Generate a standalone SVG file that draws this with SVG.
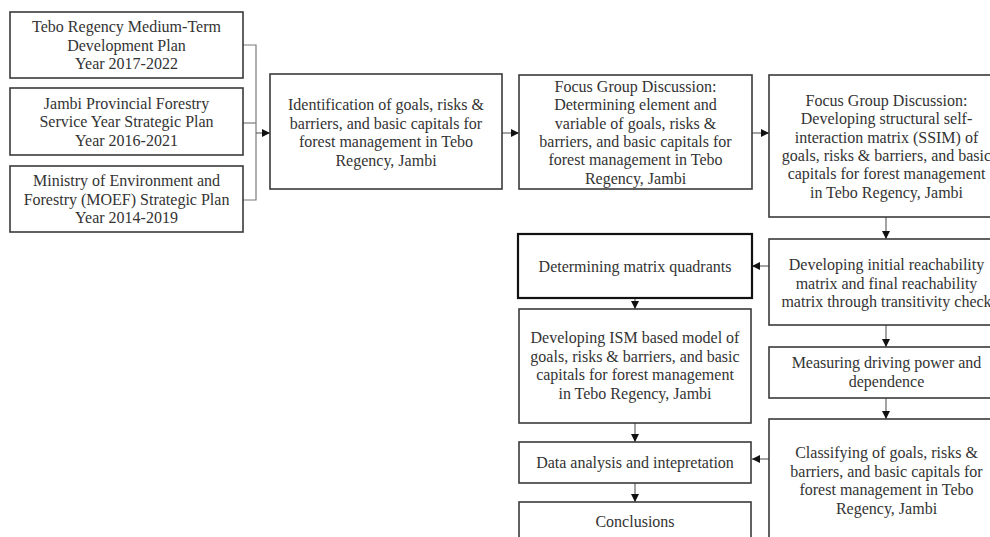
<svg xmlns="http://www.w3.org/2000/svg" width="990" height="537" viewBox="0 0 990 537">
  <defs>
    <marker id="arrow" markerUnits="userSpaceOnUse" markerWidth="8" markerHeight="8" refX="8" refY="4" orient="auto">
      <path d="M0,0 L8,4 L0,8 z" fill="#111"/>
    </marker>
    <style>
      .box { fill: #fff; stroke: #3a3a3a; stroke-width: 1.6; }
      .box-strong { fill: #fff; stroke: #111; stroke-width: 2.2; }
      .lbl { font-family: "Liberation Serif", "Times New Roman", serif; font-size: 16px; fill: #333; text-anchor: middle; }
      .bracket { fill: none; stroke: #7a7a7a; stroke-width: 1.2; }
      .link { fill: none; stroke: #666; stroke-width: 1.2; marker-end: url(#arrow); }
    </style>
  </defs>
  <rect width="990" height="537" fill="#fff"/>

  <!-- connectors -->
  <g id="connectors">
    <polyline class="bracket" points="243,45 256,45 256,200 243,200"/>
    <line class="bracket" x1="243" y1="123" x2="256" y2="123"/>
    <line class="link" x1="256" y1="133" x2="270" y2="133"/>
    <line class="link" x1="502" y1="133" x2="519" y2="133"/>
    <line class="link" x1="752" y1="133" x2="769" y2="133"/>
    <line class="link" x1="886" y1="217" x2="886" y2="239"/>
    <line class="link" x1="886" y1="325" x2="886" y2="347"/>
    <line class="link" x1="886" y1="398" x2="886" y2="419"/>
    <line class="link" x1="769" y1="266" x2="752" y2="266"/>
    <line class="link" x1="769" y1="459" x2="752" y2="459"/>
    <line class="link" x1="635" y1="298" x2="635" y2="309"/>
    <line class="link" x1="635" y1="423" x2="635" y2="442"/>
    <line class="link" x1="635" y1="483" x2="635" y2="502"/>
  </g>

  <!-- source plans -->
  <g id="plan-tebo">
    <rect class="box" x="10" y="12" width="233" height="66"/>
    <text class="lbl" x="126.5" y="32">Tebo Regency Medium-Term</text>
    <text class="lbl" x="126.5" y="50.5">Development Plan</text>
    <text class="lbl" x="126.5" y="69">Year 2017-2022</text>
  </g>
  <g id="plan-jambi">
    <rect class="box" x="10" y="88" width="233" height="67"/>
    <text class="lbl" x="126.5" y="108.5">Jambi Provincial Forestry</text>
    <text class="lbl" x="126.5" y="127">Service Year Strategic Plan</text>
    <text class="lbl" x="126.5" y="145.5">Year 2016-2021</text>
  </g>
  <g id="plan-moef">
    <rect class="box" x="10" y="166" width="233" height="66"/>
    <text class="lbl" x="126.5" y="186">Ministry of Environment and</text>
    <text class="lbl" x="126.5" y="204.5">Forestry (MOEF) Strategic Plan</text>
    <text class="lbl" x="126.5" y="223">Year 2014-2019</text>
  </g>

  <!-- top row -->
  <g id="identification">
    <rect class="box" x="270" y="74" width="232" height="115"/>
    <text class="lbl" x="386" y="110">Identification of goals, risks &amp;</text>
    <text class="lbl" x="386" y="128.5">barriers, and basic capitals for</text>
    <text class="lbl" x="386" y="147">forest management in Tebo</text>
    <text class="lbl" x="386" y="165.5">Regency, Jambi</text>
  </g>
  <g id="fgd-elements">
    <rect class="box" x="519" y="75" width="233" height="114"/>
    <text class="lbl" x="635.5" y="92">Focus Group Discussion:</text>
    <text class="lbl" x="635.5" y="110.3">Determining element and</text>
    <text class="lbl" x="635.5" y="128.6">variable of goals, risks &amp;</text>
    <text class="lbl" x="635.5" y="146.9">barriers, and basic capitals for</text>
    <text class="lbl" x="635.5" y="165.2">forest management in Tebo</text>
    <text class="lbl" x="635.5" y="183.5">Regency, Jambi</text>
  </g>
  <g id="fgd-ssim">
    <rect class="box" x="769" y="75" width="235" height="142"/>
    <text class="lbl" x="886.5" y="106">Focus Group Discussion:</text>
    <text class="lbl" x="886.5" y="124.3">Developing structural self-</text>
    <text class="lbl" x="886.5" y="142.6">interaction matrix (SSIM) of</text>
    <text class="lbl" x="886.5" y="160.9">goals, risks &amp; barriers, and basic</text>
    <text class="lbl" x="886.5" y="179.2">capitals for forest management</text>
    <text class="lbl" x="886.5" y="197.5">in Tebo Regency, Jambi</text>
  </g>

  <!-- right column -->
  <g id="reachability">
    <rect class="box" x="769" y="239" width="235" height="86"/>
    <text class="lbl" x="886.5" y="270">Developing initial reachability</text>
    <text class="lbl" x="886.5" y="288.5">matrix and final reachability</text>
    <text class="lbl" x="886.5" y="307">matrix through transitivity check</text>
  </g>
  <g id="driving-power">
    <rect class="box" x="769" y="347" width="235" height="51"/>
    <text class="lbl" x="886.5" y="368">Measuring driving power and</text>
    <text class="lbl" x="886.5" y="386.5">dependence</text>
  </g>
  <g id="classifying">
    <rect class="box" x="769" y="419" width="235" height="130"/>
    <text class="lbl" x="886.5" y="458">Classifying of goals, risks &amp;</text>
    <text class="lbl" x="886.5" y="476.5">barriers, and basic capitals for</text>
    <text class="lbl" x="886.5" y="495">forest management in Tebo</text>
    <text class="lbl" x="886.5" y="513.5">Regency, Jambi</text>
  </g>

  <!-- left column -->
  <g id="quadrants">
    <rect class="box-strong" x="518" y="234" width="234" height="64"/>
    <text class="lbl" x="635" y="272">Determining matrix quadrants</text>
  </g>
  <g id="ism-model">
    <rect class="box" x="519" y="309" width="232" height="114"/>
    <text class="lbl" x="635" y="343">Developing ISM based model of</text>
    <text class="lbl" x="635" y="361.5">goals, risks &amp; barriers, and basic</text>
    <text class="lbl" x="635" y="380">capitals for forest management</text>
    <text class="lbl" x="635" y="398.5">in Tebo Regency, Jambi</text>
  </g>
  <g id="analysis">
    <rect class="box" x="519" y="442" width="232" height="41"/>
    <text class="lbl" x="635" y="468">Data analysis and intepretation</text>
  </g>
  <g id="conclusions">
    <rect class="box" x="519" y="502" width="232" height="50"/>
    <text class="lbl" x="635" y="527">Conclusions</text>
  </g>
</svg>
